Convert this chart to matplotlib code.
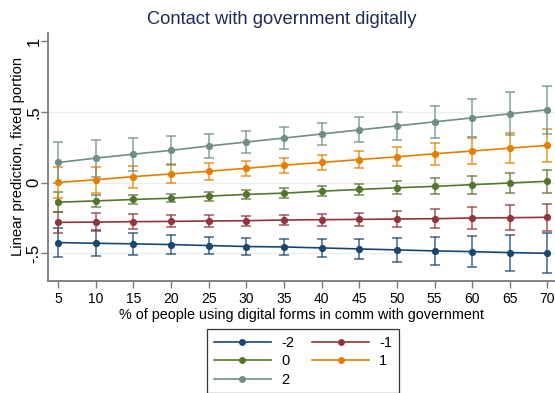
import matplotlib
matplotlib.use("Agg")
import matplotlib.pyplot as plt
from matplotlib.lines import Line2D

plt.rcParams['font.family'] = ['Liberation Sans', 'DejaVu Sans']

# Share of people using digital forms in communication with government (%)
x_vals = [5, 10, 15, 20, 25, 30, 35, 40, 45, 50, 55, 60, 65, 70]

series_labels = ["-2", "-1", "0", "1", "2"]

# Linear prediction (fixed portion) for each level of the moderator
pred_m2 = [-0.424, -0.429, -0.433, -0.438, -0.445, -0.452, -0.455, -0.462, -0.469, -0.476, -0.483, -0.488, -0.495, -0.500]
pred_m1 = [-0.281, -0.279, -0.276, -0.274, -0.271, -0.269, -0.264, -0.262, -0.260, -0.257, -0.255, -0.250, -0.248, -0.245]
pred_0 = [-0.138, -0.129, -0.119, -0.110, -0.095, -0.083, -0.074, -0.060, -0.048, -0.036, -0.026, -0.014, -0.002, 0.010]
pred_p1 = [0.002, 0.021, 0.043, 0.062, 0.081, 0.102, 0.124, 0.143, 0.164, 0.183, 0.205, 0.224, 0.245, 0.264]
pred_p2 = [0.143, 0.174, 0.202, 0.229, 0.260, 0.288, 0.316, 0.345, 0.374, 0.402, 0.431, 0.459, 0.488, 0.516]

# Half-widths of the 95% confidence intervals
ci_m2 = [0.105, 0.092, 0.078, 0.067, 0.062, 0.057, 0.057, 0.062, 0.071, 0.084, 0.098, 0.112, 0.128, 0.141]
ci_m1 = [0.074, 0.062, 0.052, 0.043, 0.040, 0.036, 0.036, 0.043, 0.048, 0.057, 0.067, 0.076, 0.088, 0.097]
ci_0 = [0.070, 0.045, 0.033, 0.030, 0.032, 0.032, 0.034, 0.037, 0.042, 0.047, 0.056, 0.063, 0.070, 0.080]
ci_p1 = [0.107, 0.093, 0.078, 0.067, 0.060, 0.053, 0.053, 0.056, 0.058, 0.068, 0.078, 0.090, 0.104, 0.117]
ci_p2 = [0.147, 0.131, 0.117, 0.102, 0.085, 0.079, 0.076, 0.080, 0.088, 0.099, 0.114, 0.134, 0.152, 0.172]

y_ticks = [-0.5, 0, 0.5, 1]
y_tick_labels = ["-.5", "0", ".5", "1"]

colors = ["#1a476f", "#90353b", "#55752f", "#e37e00", "#6e8e84"]
preds = [pred_m2, pred_m1, pred_0, pred_p1, pred_p2]
cis = [ci_m2, ci_m1, ci_0, ci_p1, ci_p2]

fig = plt.figure(figsize=(5.55, 3.93), dpi=100)
ax = fig.add_axes([48.3 / 555, 1 - 280.7 / 393, 1 - 48.3 / 555, (280.7 - 33) / 393])

for y, e, c in zip(preds, cis, colors):
    ax.errorbar(x_vals, y, yerr=e, fmt="none", ecolor=c, alpha=0.7,
                elinewidth=1.3, capsize=3.6, capthick=1.3, zorder=3)
for y, c in zip(preds, colors):
    ax.plot(x_vals, y, color=c, lw=1.2, marker="o", markersize=5.2,
            markeredgewidth=0, zorder=4)

ax.set_xlim(3.7, 71.0)
ax.set_ylim(-0.694, 1.06)

ax.set_xticks(x_vals)
ax.set_xticklabels([str(v) for v in x_vals], fontsize=10)
ax.set_yticks(y_ticks)
ax.set_yticklabels(y_tick_labels, fontsize=12, rotation=90, va="center")

for gy in [-0.5, 0, 0.5]:
    ax.axhline(gy, color="#e8f0f2", lw=1.0, zorder=1)

for side in ["top", "right"]:
    ax.spines[side].set_visible(False)
for side in ["left", "bottom"]:
    ax.spines[side].set_color("#7a7a7a")
    ax.spines[side].set_linewidth(1.3)
ax.tick_params(axis="both", color="#7a7a7a", width=1.0, length=5)
ax.tick_params(axis="x", pad=3.4)
ax.tick_params(axis="y", pad=0)

ax.set_xlabel("% of people using digital forms in comm with government", fontsize=10.4, labelpad=1)
ax.set_ylabel("Linear prediction, fixed portion", fontsize=10.6, labelpad=0.7)
fig.text(0.507, 1 - 20 / 393, "Contact with government digitally", ha="center", va="center",
         fontsize=13.2, color="#1e2b58")

# legend filled row by row: (-2, -1), (0, 1), (2)
order = [0, 2, 4, 1, 3]
handles = [Line2D([0], [0], color=colors[i], lw=1.2, marker="o", markersize=5, markeredgewidth=0)
           for i in order]
labels = [series_labels[i] for i in order]
leg = fig.legend(handles, labels, ncol=2, loc="upper center",
                 bbox_to_anchor=(303 / 555, 1 - 322 / 393), fontsize=10.5,
                 frameon=True, fancybox=False, edgecolor="black",
                 handlelength=3.9, labelspacing=0.3, columnspacing=1.25,
                 handletextpad=0.7, borderpad=0.45)
leg.get_frame().set_linewidth(0.9)

fig.savefig("out.png", dpi=100)
